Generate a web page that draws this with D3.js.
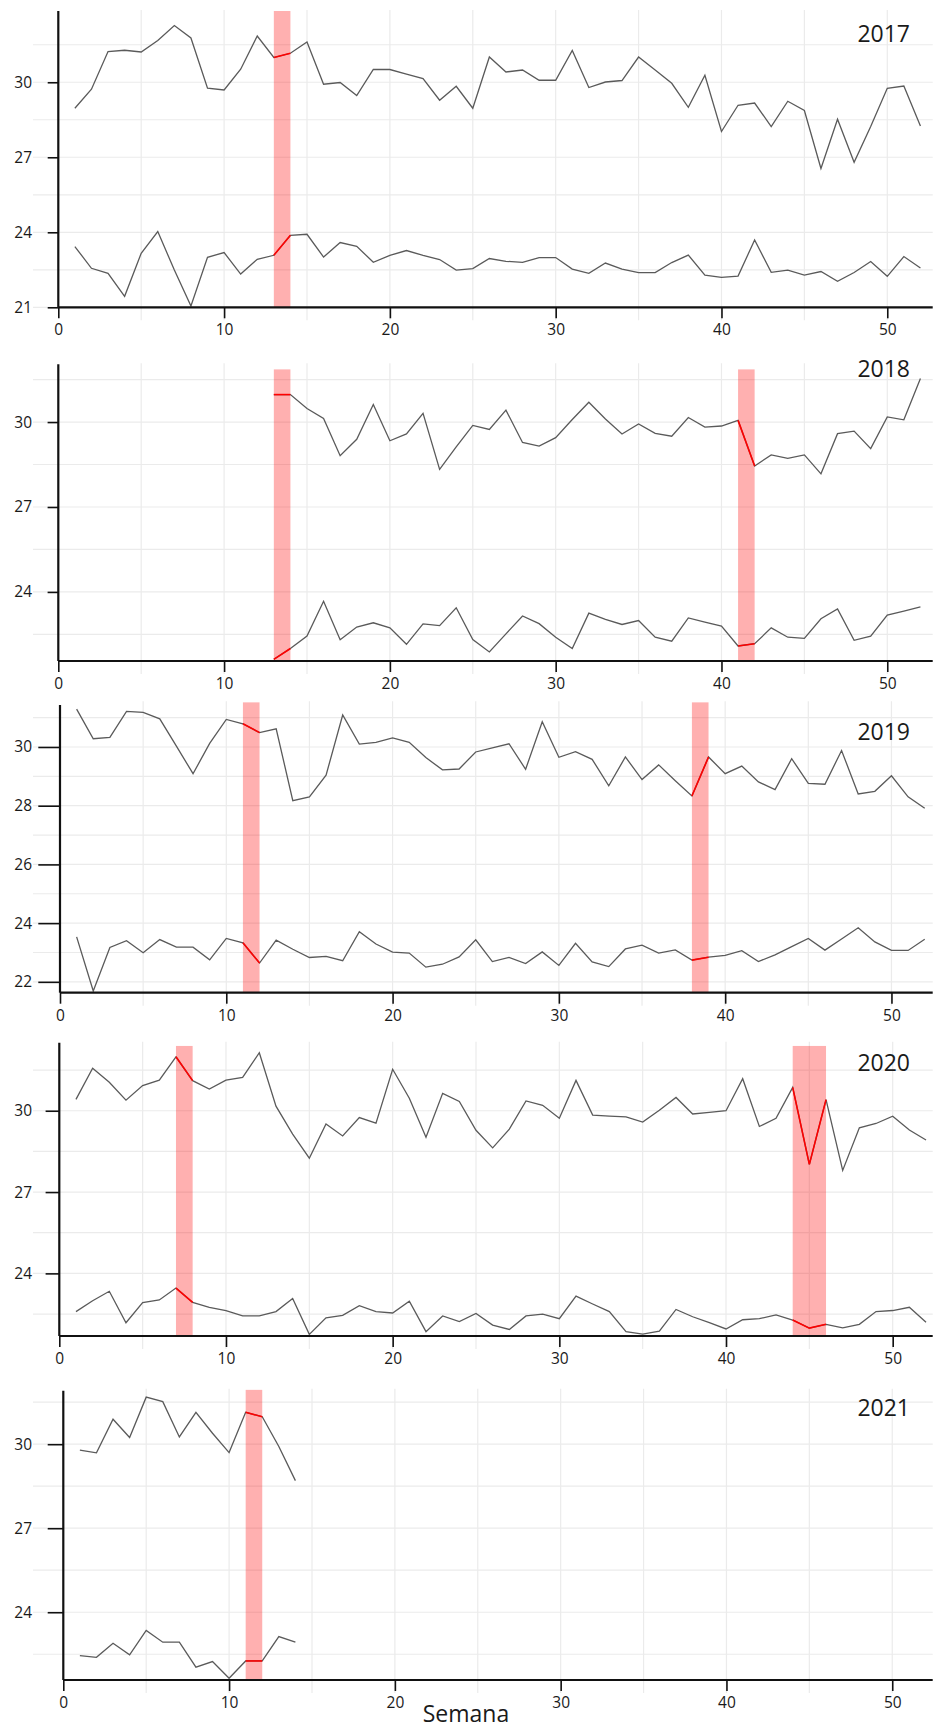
<!DOCTYPE html>
<html>
<head>
<meta charset="utf-8">
<script src="https://cdnjs.cloudflare.com/ajax/libs/d3/7.8.5/d3.min.js"></script>
<style>
    body { margin: 0; background: #fff; }
    .chart text { font-family: "Open Sans", "Noto Sans", sans-serif; fill: #1a1a1a; }
</style>
</head>
<body>
<svg class="chart" width="938" height="1732"></svg>
<script>
// years, one panel each
var years = ["2017", "2018", "2019", "2020", "2021"];
// first week that has data
var firstWeek = [1, 13, 1, 1, 1];

// weekly maxima (upper line) and minima (lower line)
var upper2017 = [28.96, 29.72, 31.23, 31.28, 31.21, 31.67, 32.27, 31.77, 29.76, 29.69, 30.52, 31.85, 30.99,
    31.16, 31.61, 29.92, 29.99, 29.47, 30.51, 30.51, 30.33, 30.15, 29.28, 29.84, 28.96, 31.01, 30.41, 30.49,
    30.08, 30.08, 31.27, 29.79, 30.01, 30.07, 31.01, 30.49, 29.96, 29.0, 30.28, 28.03, 29.08, 29.17, 28.23,
    29.24, 28.87, 26.55, 28.52, 26.8, 28.23, 29.76, 29.85, 28.25];
var lower2017 = [23.43, 22.56, 22.36, 21.44, 23.16, 24.03, 22.49, 21.05, 23.0, 23.19, 22.33, 22.92, 23.08,
    23.88, 23.92, 23.01, 23.59, 23.44, 22.8, 23.08, 23.27, 23.08, 22.91, 22.49, 22.55, 22.95, 22.84, 22.8,
    22.99, 22.99, 22.53, 22.36, 22.77, 22.53, 22.39, 22.39, 22.79, 23.09, 22.29, 22.2, 22.25, 23.69, 22.4,
    22.49, 22.29, 22.43, 22.04, 22.39, 22.83, 22.24, 23.03, 22.57];

var upper2018 = [30.97, 30.97, 30.48, 30.13, 28.81, 29.39, 30.62, 29.34, 29.58, 30.31, 28.33, 29.12, 29.88,
    29.74, 30.42, 29.28, 29.15, 29.45, 30.09, 30.7, 30.11, 29.58, 29.93, 29.6, 29.5, 30.16, 29.82, 29.86,
    30.06, 28.45, 28.84, 28.72, 28.84, 28.17, 29.59, 29.68, 29.06, 30.18, 30.08, 31.54];
var lower2018 = [21.62, 22.0, 22.44, 23.67, 22.31, 22.76, 22.91, 22.73, 22.15, 22.87, 22.81, 23.44, 22.32,
    21.88, 22.52, 23.15, 22.88, 22.4, 22.0, 23.25, 23.03, 22.85, 22.99, 22.4, 22.26, 23.08, 22.93, 22.79,
    22.09, 22.17, 22.73, 22.4, 22.36, 23.05, 23.4, 22.29, 22.44, 23.18, 23.32, 23.47];

var upper2019 = [31.29, 30.28, 30.33, 31.21, 31.18, 30.96, 30.03, 29.09, 30.12, 30.94, 30.79, 30.49, 30.62,
    28.17, 28.3, 29.04, 31.09, 30.1, 30.16, 30.31, 30.16, 29.64, 29.22, 29.25, 29.83, 29.97, 30.11, 29.24,
    30.86, 29.65, 29.84, 29.58, 28.68, 29.66, 28.89, 29.39, 28.85, 28.33, 29.66, 29.09, 29.35, 28.81, 28.55,
    29.6, 28.76, 28.73, 29.88, 28.4, 28.49, 29.02, 28.3, 27.91];
var lower2019 = [23.53, 21.69, 23.17, 23.4, 22.99, 23.44, 23.18, 23.18, 22.75, 23.48, 23.33, 22.64, 23.42,
    23.11, 22.83, 22.87, 22.72, 23.71, 23.29, 23.01, 22.98, 22.5, 22.6, 22.85, 23.43, 22.69, 22.83, 22.62,
    23.02, 22.56, 23.31, 22.68, 22.52, 23.12, 23.25, 22.98, 23.09, 22.74, 22.84, 22.9, 23.06, 22.69, 22.92,
    23.2, 23.48, 23.08, 23.46, 23.84, 23.36, 23.07, 23.07, 23.45];

var upper2020 = [30.42, 31.57, 31.05, 30.39, 30.93, 31.13, 31.99, 31.11, 30.8, 31.13, 31.23, 32.14, 30.17,
    29.14, 28.25, 29.51, 29.07, 29.75, 29.54, 31.53, 30.46, 29.02, 30.64, 30.34, 29.28, 28.63, 29.32, 30.36,
    30.2, 29.72, 31.12, 29.84, 29.8, 29.77, 29.58, 30.02, 30.49, 29.88, 29.94, 30.0, 31.18, 29.42, 29.72,
    30.86, 28.02, 30.41, 27.8, 29.37, 29.53, 29.8, 29.29, 28.92];
var lower2020 = [22.59, 22.99, 23.34, 22.18, 22.92, 23.02, 23.46, 22.93, 22.75, 22.63, 22.43, 22.43, 22.59,
    23.07, 21.75, 22.36, 22.45, 22.81, 22.59, 22.54, 22.97, 21.85, 22.43, 22.22, 22.52, 22.09, 21.93, 22.43,
    22.5, 22.33, 23.16, 22.87, 22.59, 21.85, 21.76, 21.87, 22.67, 22.4, 22.18, 21.95, 22.29, 22.33, 22.47,
    22.28, 21.98, 22.12, 21.99, 22.12, 22.59, 22.63, 22.75, 22.2];

var upper2021 = [29.79, 29.69, 30.89, 30.24, 31.68, 31.52, 30.26, 31.14, 30.39, 29.7, 31.14, 30.98, 29.92, 28.7];
var lower2021 = [22.45, 22.39, 22.89, 22.48, 23.35, 22.93, 22.93, 22.04, 22.24, 21.64, 22.26, 22.26, 23.13, 22.93];

var upperSeries = [upper2017, upper2018, upper2019, upper2020, upper2021];
var lowerSeries = [lower2017, lower2018, lower2019, lower2020, lower2021];

// highlighted week ranges
var bands = [
    [[13, 14]],
    [[13, 14], [41, 42]],
    [[11, 12], [38, 39]],
    [[7, 8], [44, 46]],
    [[11, 12]]
];

// axis ticks
var xTicks = [0, 10, 20, 30, 40, 50];
var yTicks = [[21, 24, 27, 30], [24, 27, 30], [22, 24, 26, 28, 30], [24, 27, 30], [24, 27, 30]];
var yGridStep = [1.5, 1.5, 1, 1.5, 1.5];

// y extents of each panel and top of the shaded bands
var yLow = [21, 21.56, 21.63, 21.69, 21.58];
var yHigh = [32.85, 32.04, 31.43, 32.51, 31.91];
var bandHigh = [32.85, 31.86, 31.52, 32.39, 31.94];
var xHigh = [52.74, 52.74, 52.48, 52.4, 52.44];

// panel placement (pixels)
var layout = [
    { top: 11, bottom: 307.3, left: 58.3, tick: 10.6, label: 41.7 },
    { top: 364.3, bottom: 661, left: 58.3, tick: 10.7, label: 376.7 },
    { top: 705, bottom: 992.7, left: 60, tick: 21.7, label: 740 },
    { top: 1042.7, bottom: 1336, left: 59.3, tick: 13.7, label: 1071 },
    { top: 1390.7, bottom: 1680, left: 63.3, tick: 15.6, label: 1415.7 }
];
var right = 932.7;
var gridLeft = 33;

var chart = d3.select(".chart");

years.forEach(function(year, p) {
    drawPanel(p);
});

chart.append("text")
    .attr("x", 466)
    .attr("y", 1721.5)
    .attr("text-anchor", "middle")
    .style("font-size", "23px")
    .text("Semana");

function drawPanel(p) {
    var lay = layout[p];
    var g = chart.append("g").attr("class", "panel_" + years[p]);

    var x = d3.scaleLinear().domain([0, xHigh[p]]).range([lay.left, right]);
    var y = d3.scaleLinear().domain([yLow[p], yHigh[p]]).range([lay.bottom, lay.top]);

    var gridTop = Math.min(lay.top, y(bandHigh[p])) - 1;

    // horizontal grid, ticks and half steps
    var hGrid = [];
    for (var v = yTicks[p][0] - 3 * yGridStep[p]; v <= yHigh[p]; v += yGridStep[p]) {
        if (v >= yLow[p] - 0.01) hGrid.push(v);
    }
    g.selectAll("line.hgrid")
        .data(hGrid)
        .enter().append("line")
        .attr("class", "hgrid")
        .attr("x1", gridLeft).attr("x2", right)
        .attr("y1", function(d) { return y(d); })
        .attr("y2", function(d) { return y(d); })
        .attr("stroke", "#ebebeb")
        .attr("stroke-width", 1.2);

    // vertical grid every 5 weeks
    g.selectAll("line.vgrid")
        .data(d3.range(5, 55, 5))
        .enter().append("line")
        .attr("class", "vgrid")
        .attr("x1", function(d) { return x(d); })
        .attr("x2", function(d) { return x(d); })
        .attr("y1", gridTop)
        .attr("y2", lay.bottom + 13)
        .attr("stroke", "#ebebeb")
        .attr("stroke-width", 1.2);

    // shaded weeks
    g.selectAll("rect.band")
        .data(bands[p])
        .enter().append("rect")
        .attr("class", "band")
        .attr("x", function(d) { return x(d[0]); })
        .attr("width", function(d) { return x(d[1]) - x(d[0]); })
        .attr("y", y(bandHigh[p]))
        .attr("height", y(yLow[p]) - y(bandHigh[p]))
        .attr("fill", "#ff0000")
        .attr("fill-opacity", 0.31);

    // the two lines, grey with red pieces inside the bands
    var line = d3.line()
        .x(function(d) { return x(d.week); })
        .y(function(d) { return y(d.value); });

    [upperSeries[p], lowerSeries[p]].forEach(function(series) {
        var points = series.map(function(v, i) { return { week: firstWeek[p] + i, value: v }; });
        g.append("path")
            .datum(points)
            .attr("d", line)
            .attr("fill", "none")
            .attr("stroke", "#5a5a5a")
            .attr("stroke-width", 1.3);

        bands[p].forEach(function(b) {
            var inside = points.filter(function(d) { return d.week >= b[0] && d.week <= b[1]; });
            g.append("path")
                .datum(inside)
                .attr("d", line)
                .attr("fill", "none")
                .attr("stroke", "#ff0000")
                .attr("stroke-width", 1.6);
        });
    });

    // axes
    var xAxis = d3.axisBottom(x)
        .tickValues(xTicks)
        .tickSize(11)
        .tickPadding(6)
        .tickFormat(d3.format("d"));
    var gx = g.append("g")
        .attr("transform", "translate(0," + lay.bottom + ")")
        .call(xAxis);
    gx.select(".domain").attr("d", "M" + lay.left + ",0H" + right);

    var yAxis = d3.axisLeft(y)
        .tickValues(yTicks[p])
        .tickSize(lay.tick)
        .tickPadding(lay.left - lay.tick - 32)
        .tickFormat(d3.format("d"));
    var gy = g.append("g")
        .attr("transform", "translate(" + lay.left + ",0)")
        .call(yAxis);
    gy.select(".domain").attr("d", "M0," + lay.top + "V" + lay.bottom);

    g.selectAll(".domain").attr("stroke", "#111").attr("stroke-width", 2.2);
    g.selectAll(".tick line").attr("stroke", "#111").attr("stroke-width", 1.6);
    g.selectAll(".tick text")
        .attr("fill", "#1a1a1a")
        .style("font-family", "'Open Sans', 'Noto Sans', sans-serif")
        .style("font-size", "15.5px");

    // year label
    g.append("text")
        .attr("x", 910)
        .attr("y", lay.label)
        .attr("text-anchor", "end")
        .style("font-size", "23px")
        .text(years[p]);
}
</script>
</body>
</html>
